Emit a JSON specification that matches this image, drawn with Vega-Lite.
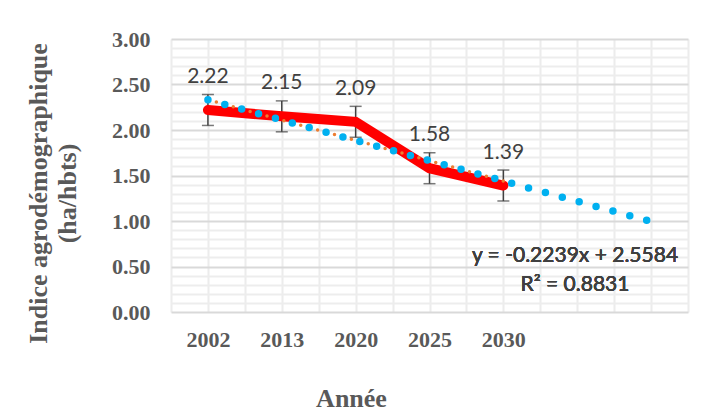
{
  "$schema": "https://vega.github.io/schema/vega-lite/v6.json",
  "width": 517,
  "height": 273,
  "autosize": "none",
  "padding": {"left": 171, "top": 39, "right": 21, "bottom": 105},
  "background": "white",
  "config": {"view": {"stroke": null}, "font": "Lato"},
  "data": {
    "values": [
      {"i": 1, "annee": "2002", "val": 2.22, "lo": 2.05, "hi": 2.39},
      {"i": 2, "annee": "2013", "val": 2.15, "lo": 1.98, "hi": 2.32},
      {"i": 3, "annee": "2020", "val": 2.09, "lo": 1.92, "hi": 2.26},
      {"i": 4, "annee": "2025", "val": 1.58, "lo": 1.41, "hi": 1.75},
      {"i": 5, "annee": "2030", "val": 1.39, "lo": 1.22, "hi": 1.56}
    ]
  },
  "encoding": {
    "x": {
      "field": "i",
      "type": "quantitative",
      "scale": {"domain": [0.5, 7.5], "nice": false, "zero": false},
      "axis": {
        "values": [0.5, 1, 1.5, 2, 2.5, 3, 3.5, 4, 4.5, 5, 5.5, 6, 6.5, 7, 7.5],
        "labelExpr": "datum.value==1?'2002':datum.value==2?'2013':datum.value==3?'2020':datum.value==4?'2025':datum.value==5?'2030':''",
        "labelOverlap": false,
        "labelFlush": false,
        "grid": true,
        "gridColor": "#ececec",
        "gridWidth": 2,
        "ticks": false,
        "domain": false,
        "labelFont": "Liberation Serif",
        "labelFontWeight": "bold",
        "labelFontSize": 22,
        "labelColor": "#595959",
        "labelPadding": 17,
        "labelBaseline": "top",
        "title": "Année",
        "titleFont": "Liberation Serif",
        "titleFontWeight": "bold",
        "titleFontSize": 26,
        "titleColor": "#595959",
        "titleX": 180,
        "titleY": 86,
        "titleAlign": "center",
        "titleBaseline": "middle"
      }
    },
    "y": {
      "field": "val",
      "type": "quantitative",
      "scale": {"domain": [0, 3], "nice": false},
      "axis": {
        "values": [0, 0.1, 0.2, 0.3, 0.4, 0.5, 0.6, 0.7, 0.8, 0.9, 1.0, 1.1, 1.2, 1.3, 1.4, 1.5, 1.6, 1.7, 1.8, 1.9, 2.0, 2.1, 2.2, 2.3, 2.4, 2.5, 2.6, 2.7, 2.8, 2.9, 3.0],
        "labelExpr": "round(datum.value*10)%5==0 ? format(datum.value,'.2f') : ''",
        "labelOverlap": false,
        "labelFlush": false,
        "grid": true,
        "gridColor": {"condition": {"test": "round(datum.value*10)%5==0", "value": "#d9d9d9"}, "value": "#ededed"},
        "gridWidth": 1.8,
        "ticks": false,
        "domain": false,
        "labelFont": "Liberation Serif",
        "labelFontWeight": "bold",
        "labelFontSize": 22,
        "labelColor": "#595959",
        "labelPadding": 21,
        "title": ["Indice agrodémographique", "(ha/hbts)"],
        "titleFont": "Liberation Serif",
        "titleFontWeight": "bold",
        "titleFontSize": 26,
        "titleColor": "#595959",
        "titleAngle": -90,
        "titleX": -132.5,
        "titleY": 154,
        "titleAlign": "center",
        "titleBaseline": "middle",
        "titleLineHeight": 29
      }
    }
  },
  "layer": [
    {
      "transform": [{"fold": ["lo", "hi"], "as": ["borne", "val"]}],
      "mark": {"type": "line", "color": "#404040", "strokeWidth": 1.5},
      "encoding": {"detail": {"field": "i", "type": "nominal"}}
    },
    {
      "transform": [{"fold": ["lo", "hi"], "as": ["borne", "val"]}],
      "mark": {"type": "tick", "orient": "horizontal", "color": "#404040", "size": 12, "thickness": 1.5}
    },
    {
      "mark": {"type": "line", "color": "#ff0000", "strokeWidth": 10, "strokeCap": "round"}
    },
    {
      "transform": [{"regression": "val", "on": "i", "extent": [1, 5]}],
      "mark": {"type": "line", "color": "#ed7d31", "strokeWidth": 3.5, "strokeDash": [0, 8.75], "strokeCap": "round"}
    },
    {
      "transform": [{"regression": "val", "on": "i", "extent": [1, 7]}],
      "mark": {"type": "line", "color": "#00b0f0", "strokeWidth": 7.5, "strokeDash": [0, 17.5], "strokeCap": "round"}
    },
    {
      "mark": {"type": "text", "font": "Lato", "fontSize": 21, "fontWeight": "normal", "color": "#404040", "dy": -33, "baseline": "middle", "align": "center"},
      "encoding": {
        "text": {"field": "val", "type": "quantitative", "format": ".2f"}
      }
    },
    {
      "mark": {"type": "text", "text": ["y = -0.2239x + 2.5584", "R² = 0.8831"], "font": "Lato", "fontSize": 21, "fontWeight": "normal", "color": "#404040", "align": "center", "baseline": "middle", "lineHeight": 29},
      "encoding": {
        "x": {"datum": 5.97, "type": "quantitative"},
        "y": {
          "datum": 0.62,
          "type": "quantitative",
          "scale": {"domain": [0, 3], "nice": false},
          "axis": {
            "values": [0, 0.1, 0.2, 0.3, 0.4, 0.5, 0.6, 0.7, 0.8, 0.9, 1.0, 1.1, 1.2, 1.3, 1.4, 1.5, 1.6, 1.7, 1.8, 1.9, 2.0, 2.1, 2.2, 2.3, 2.4, 2.5, 2.6, 2.7, 2.8, 2.9, 3.0],
            "labelExpr": "round(datum.value*10)%5==0 ? format(datum.value,'.2f') : ''",
            "labelOverlap": false,
            "labelFlush": false,
            "grid": true,
            "gridColor": {"condition": {"test": "round(datum.value*10)%5==0", "value": "#d9d9d9"}, "value": "#ededed"},
            "gridWidth": 1.8,
            "ticks": false,
            "domain": false,
            "labelFont": "Liberation Serif",
            "labelFontWeight": "bold",
            "labelFontSize": 22,
            "labelColor": "#595959",
            "labelPadding": 21,
            "title": ["Indice agrodémographique", "(ha/hbts)"],
            "titleFont": "Liberation Serif",
            "titleFontWeight": "bold",
            "titleFontSize": 26,
            "titleColor": "#595959",
            "titleAngle": -90,
            "titleX": -132.5,
            "titleY": 154,
            "titleAlign": "center",
            "titleBaseline": "middle",
            "titleLineHeight": 29
          }
        }
      }
    }
  ]
}
